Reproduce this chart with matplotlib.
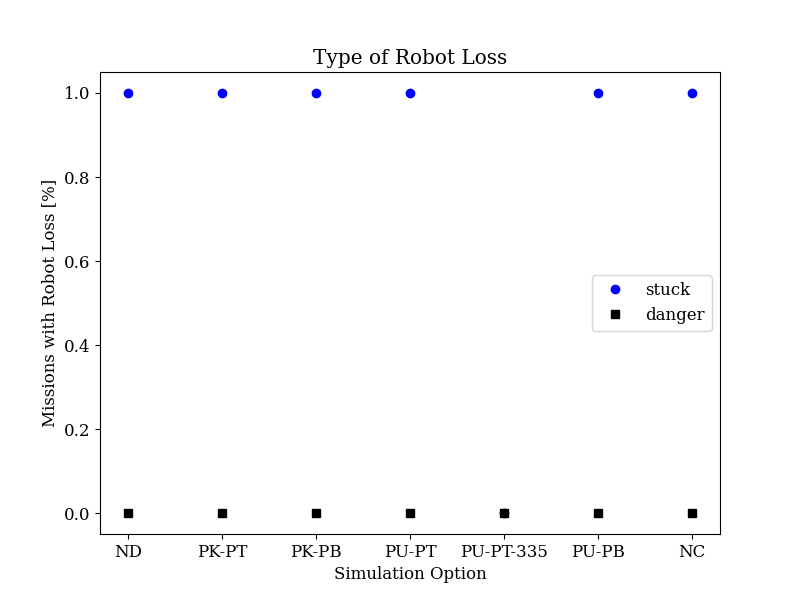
import matplotlib
matplotlib.use("Agg")
import matplotlib.pyplot as plt

plt.rcParams['font.family'] = 'DejaVu Serif'
plt.rcParams['font.size'] = 12

options = ["ND", "PK-PT", "PK-PB", "PU-PT", "PU-PT-335", "PU-PB", "NC"]
stuck = [1.0, 1.0, 1.0, 1.0, 0.0, 1.0, 1.0]
danger = [0.0, 0.0, 0.0, 0.0, 0.0, 0.0, 0.0]

fig, ax = plt.subplots(figsize=(8, 6), dpi=100)
x = range(len(options))
ax.plot(x, stuck, 'o', color='blue', label='stuck')
ax.plot(x, danger, 's', color='black', label='danger')
ax.set_xticks(list(x))
ax.set_xticklabels(options)
ax.set_title("Type of Robot Loss")
ax.set_xlabel("Simulation Option")
ax.set_ylabel("Missions with Robot Loss [%]")
ax.legend(loc='center right')
fig.savefig("out.png")
